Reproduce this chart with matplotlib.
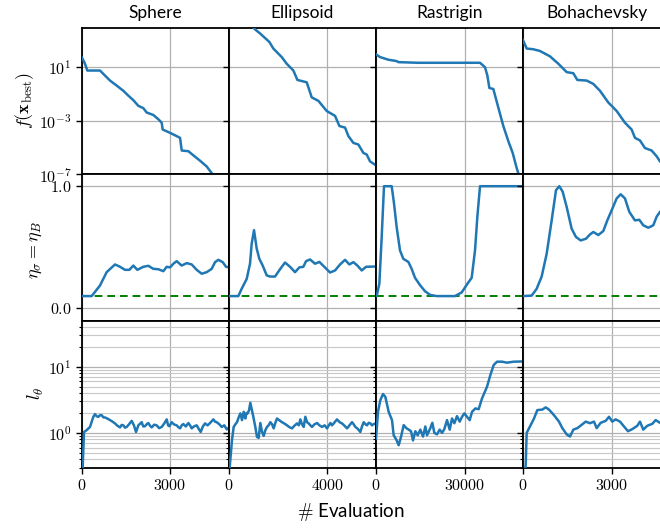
import numpy as np
import matplotlib
matplotlib.use("Agg")
import matplotlib.pyplot as plt
from matplotlib.ticker import FixedLocator, FuncFormatter, LogLocator, NullFormatter, NullLocator

plt.rcParams['mathtext.fontset'] = 'cm'
plt.rcParams['font.family'] = ['Lato', 'DejaVu Sans']

titles = ["Sphere", "Ellipsoid", "Rastrigin", "Bohachevsky"]
xmax = [5011, 5980, 49540, 4955]
xticks = [[0, 3000], [0, 4000], [0, 30000], [0, 3000]]

# ---- row 1: f(x_best) ----
sph_f_e = [0, 102, 181, 614, 750, 955, 1183, 1410, 1580, 1750, 1921, 2091, 2205, 2432, 2603, 2717, 2750,
           3001, 3228, 3342, 3399, 3626, 3796, 4024, 4251, 4422, 4479, 4649, 4763, 5011]
sph_f = [5.4e1, 1.9e1, 5.9, 5.9, 2.95, 1.05, 4.4e-1, 1.8e-1, 7.8e-2, 3.6e-2, 1.35e-2, 9.1e-3, 4.3e-3,
         2.8e-3, 1.35e-3, 7.4e-4, 2.3e-4, 1.3e-4, 7.4e-5, 5.5e-5, 6.2e-6, 5.5e-6, 2.7e-6, 1.07e-6,
         4.0e-7, 1.26e-7, 9.5e-8, 9.5e-8, 1.0e-8, 3.0e-9]

ell_f_e = [0, 1058, 1262, 1641, 1804, 2144, 2348, 2619, 2782, 3162, 3365, 3636, 3975, 4314, 4491, 4721,
           4857, 5060, 5263, 5466, 5602, 5738, 5942]
ell_f = [1.2e6, 7.1e3, 3.5e3, 8.1e2, 2.6e2, 6.0e1, 1.9e1, 5.9, 1.17, 7.8e-1, 5.8e-2, 3.2e-2, 5.6e-3,
         2.4e-3, 4.2e-4, 3.2e-4, 7.4e-5, 2.3e-5, 1.74e-5, 4.1e-6, 3.1e-6, 9.5e-7, 5.4e-7]

ras_f_e = [0, 1348, 4157, 6965, 7528, 14267, 35055, 36730, 37527, 38201, 39540, 41225, 42910, 44595,
           46067, 47414, 48313, 49540]
ras_f = [9.5e1, 6.0e1, 3.8e1, 3.0e1, 2.5e1, 2.24e1, 2.24e1, 1.05e1, 2.5, 2.95e-1, 2.45e-1, 1.0e-2,
         4.2e-4, 3.1e-5, 4.1e-6, 3.0e-7, 7.1e-8, 1.0e-8]

boh_f_e = [0, 124, 348, 573, 910, 1191, 1472, 1696, 1831, 2146, 2370, 2595, 2876, 3157, 3437, 3662, 3774,
           3943, 4111, 4336, 4505, 4617, 4955]
boh_f = [1.1e3, 2.6e2, 2.3e2, 1.7e2, 6.8e1, 1.9e1, 4.5, 3.7, 1.17, 1.05, 5.9e-1, 1.8e-1, 2.4e-2,
         5.6e-3, 7.4e-4, 2.3e-4, 5.5e-5, 3.5e-5, 9.5e-6, 6.2e-6, 2.3e-6, 9.5e-7, 3.0e-7]

# ---- row 2: eta ----
sph_eta_e = [0, 330, 614, 841, 1125, 1296, 1466, 1614, 1750, 1887, 2091, 2262, 2432, 2603, 2773, 2887,
             3001, 3114, 3228, 3398, 3569, 3740, 3910, 4080, 4251, 4421, 4535, 4649, 4797, 4910, 5011]
sph_eta = [0.1, 0.1, 0.187, 0.296, 0.359, 0.34, 0.315, 0.315, 0.35, 0.315, 0.34, 0.348, 0.323, 0.32,
           0.304, 0.34, 0.335, 0.365, 0.386, 0.35, 0.37, 0.359, 0.315, 0.283, 0.296, 0.323, 0.378,
           0.397, 0.378, 0.34, 0.335]

ell_eta_e = [0, 380, 515, 719, 855, 923, 1018, 1126, 1235, 1370, 1533, 1668, 1872, 2076, 2279, 2482,
             2686, 2862, 3025, 3134, 3297, 3500, 3676, 3866, 4111, 4314, 4518, 4721, 4898, 5060, 5223,
             5399, 5575, 5942]
ell_eta = [0.1, 0.1, 0.16, 0.24, 0.365, 0.53, 0.64, 0.49, 0.405, 0.35, 0.27, 0.26, 0.26, 0.32, 0.375,
           0.34, 0.296, 0.335, 0.34, 0.386, 0.4, 0.365, 0.38, 0.342, 0.293, 0.31, 0.359, 0.397, 0.359,
           0.378, 0.35, 0.31, 0.34, 0.342]

ras_eta_e = [0, 225, 1123, 1910, 2696, 5280, 6066, 6965, 8088, 9211, 10897, 12020, 13143, 14828, 16513,
             18198, 20445, 24377, 26606, 28877, 30786, 32247, 33370, 34156, 35055, 49540]
ras_eta = [0.1, 0.1, 0.2, 0.58, 1.0, 1.0, 0.86, 0.665, 0.474, 0.405, 0.38, 0.323, 0.25, 0.19, 0.14,
           0.11, 0.1, 0.1, 0.1, 0.13, 0.2, 0.25, 0.474, 0.75, 1.0, 1.0]

boh_eta_e = [0, 292, 461, 629, 798, 966, 1112, 1224, 1337, 1472, 1640, 1786, 1944, 2124, 2258, 2370,
             2538, 2707, 2842, 2989, 3157, 3292, 3437, 3583, 3774, 3920, 4054, 4223, 4392, 4504, 4617,
             4955]
boh_eta = [0.1, 0.104, 0.16, 0.26, 0.447, 0.72, 0.967, 1.0, 0.955, 0.83, 0.652, 0.584, 0.556, 0.57,
           0.605, 0.625, 0.6, 0.633, 0.72, 0.803, 0.9, 0.934, 0.9, 0.79, 0.72, 0.725, 0.68, 0.66, 0.68,
           0.75, 0.79, 0.82]

eta_min = 0.1

# ---- row 3: l_theta ----
sph_l_e = [0, 23, 68, 159, 273, 386, 443, 500, 557, 613, 670, 727, 784, 870, 955, 1040, 1125, 1210,
           1296, 1353, 1410, 1466, 1523, 1610, 1694, 1770, 1842, 1921, 1980, 2035, 2090, 2148, 2205,
           2262, 2320, 2376, 2460, 2546, 2630, 2717, 2800, 2887, 2935, 2978, 3058, 3140, 3228, 3285,
           3342, 3400, 3456, 3540, 3626, 3683, 3740, 3825, 3910, 3980, 4046, 4120, 4194, 4280, 4365,
           4420, 4478, 4535, 4592, 4680, 4762, 4850, 4933, 5011]
sph_l = [0.2, 0.3, 1.03, 1.1, 1.23, 1.75, 1.92, 1.78, 1.75, 1.85, 1.85, 1.72, 1.71, 1.64, 1.56, 1.48,
         1.39, 1.28, 1.21, 1.32, 1.3, 1.2, 1.23, 1.36, 1.52, 1.3, 1.03, 1.3, 1.38, 1.45, 1.25, 1.26,
         1.35, 1.41, 1.28, 1.21, 1.33, 1.3, 1.18, 1.23, 1.38, 1.6, 1.3, 1.26, 1.45, 1.34, 1.3, 1.22,
         1.17, 1.3, 1.36, 1.25, 1.41, 1.3, 1.17, 1.26, 1.3, 1.15, 1.03, 1.25, 1.39, 1.3, 1.41, 1.5,
         1.6, 1.48, 1.45, 1.35, 1.23, 1.3, 1.13, 1.21]

ell_l_e = [0, 27, 122, 190, 260, 325, 390, 461, 529, 597, 665, 710, 760, 815, 868, 976, 1071, 1139,
           1207, 1275, 1340, 1410, 1480, 1546, 1610, 1682, 1750, 1818, 1880, 1953, 2050, 2157, 2260,
           2360, 2460, 2564, 2660, 2767, 2840, 2903, 2970, 3039, 3106, 3175, 3242, 3310, 3378, 3480,
           3581, 3680, 3785, 3890, 3988, 4060, 4124, 4190, 4259, 4330, 4395, 4500, 4598, 4700, 4802,
           4900, 5005, 5070, 5141, 5240, 5344, 5410, 5480, 5550, 5615, 5680, 5751, 5820, 5887, 5980]
ell_l = [0.2, 0.3, 0.78, 1.23, 1.35, 1.45, 1.7, 1.97, 1.56, 2.08, 1.65, 2.0, 1.97, 2.2, 2.85, 1.85,
         1.23, 0.87, 0.84, 1.41, 1.05, 0.9, 1.1, 1.23, 1.3, 1.45, 1.35, 1.17, 1.4, 1.65, 1.55, 1.45,
         1.38, 1.3, 1.22, 1.17, 1.28, 1.39, 1.3, 1.6, 1.35, 1.23, 1.75, 1.45, 1.39, 1.3, 1.23, 1.35,
         1.41, 1.3, 1.23, 1.3, 1.17, 1.3, 1.41, 1.3, 1.39, 1.5, 1.6, 1.45, 1.39, 1.28, 1.17, 1.3, 1.45,
         1.35, 1.23, 1.15, 1.03, 1.25, 1.45, 1.35, 1.3, 1.42, 1.39, 1.3, 1.36, 1.39]

ras_l_e = [0, 674, 1460, 2360, 3146, 4270, 5393, 5955, 6854, 7640, 8427, 9326, 10225, 11011, 11798,
           12472, 13258, 14045, 14944, 15843, 16629, 17191, 18314, 18988, 19662, 20561, 21460, 22247,
           23033, 23932, 24831, 25618, 26404, 27303, 28202, 28989, 29775, 30674, 31573, 32360, 33483,
           34607, 35730, 37415, 38539, 39663, 40786, 42471, 44157, 46404, 49540]
ras_l = [0.82, 2.08, 3.13, 3.86, 3.5, 2.08, 1.56, 0.92, 0.79, 0.65, 0.87, 1.31, 1.18, 1.12, 1.06, 0.77,
         1.06, 0.92, 1.12, 0.88, 1.25, 0.92, 1.18, 1.42, 1.0, 0.95, 1.12, 1.0, 1.14, 1.56, 1.12, 1.65,
         1.4, 1.79, 1.48, 1.75, 1.97, 1.75, 1.56, 2.08, 2.34, 2.28, 3.32, 4.98, 7.48, 10.6, 11.9, 11.9,
         11.5, 11.9, 12.0]

boh_l_e = [0, 90, 124, 258, 371, 483, 652, 764, 876, 1045, 1213, 1326, 1472, 1584, 1697, 1832, 1966,
           2112, 2258, 2393, 2483, 2618, 2787, 2899, 3010, 3124, 3269, 3404, 3539, 3683, 3852, 3943,
           4054, 4189, 4358, 4472, 4617, 4955]
boh_l = [0.2, 0.32, 1.0, 1.31, 1.65, 2.21, 2.25, 2.43, 2.25, 1.85, 1.48, 1.18, 0.95, 0.88, 1.12, 1.18,
         1.31, 1.48, 1.4, 1.48, 1.18, 1.42, 1.52, 1.75, 1.48, 1.6, 1.48, 1.25, 1.06, 1.14, 1.28, 1.48,
         1.12, 1.28, 1.37, 1.56, 1.42, 1.3]

f_series = [(sph_f_e, sph_f), (ell_f_e, ell_f), (ras_f_e, ras_f), (boh_f_e, boh_f)]
eta_series = [(sph_eta_e, sph_eta), (ell_eta_e, ell_eta), (ras_eta_e, ras_eta), (boh_eta_e, boh_eta)]
l_series = [(sph_l_e, sph_l), (ell_l_e, ell_l), (ras_l_e, ras_l), (boh_l_e, boh_l)]

W, H = 660, 529
fig = plt.figure(figsize=(W / 100, H / 100), dpi=100)

col_left = [82, 229, 376, 523]
col_w = 147
row_top = [28, 174, 321]
row_h = 146.5

blue = '#1f77b4'
tick_fs = 11.5

def mathfmt(v, pos):
    return r'$%g$' % v

def logfmt(v, pos):
    if v <= 0:
        return ''
    e = int(round(np.log10(v)))
    return r'$10^{%d}$' % e

for r in range(3):
    for c in range(4):
        ax = fig.add_axes([col_left[c] / W, 1 - (row_top[r] + row_h) / H, col_w / W, row_h / H])
        for s in ax.spines.values():
            s.set_linewidth(1.3)
            s.set_color('black')
        ax.set_xlim(0, xmax[c])
        ax.xaxis.set_major_locator(FixedLocator(xticks[c]))
        ax.xaxis.set_minor_locator(NullLocator())
        ax.grid(True, which='major', color='#b0b0b0', linewidth=0.9)
        ax.set_axisbelow(True)
        ax.tick_params(axis='both', which='major', direction='out', length=4, width=1.0,
                       labelsize=tick_fs, color='black')
        ax.tick_params(axis='both', which='minor', direction='out', length=2.5, width=0.8)
        if r < 2:
            ax.tick_params(axis='x', labelbottom=False)
        else:
            ax.xaxis.set_major_formatter(FuncFormatter(mathfmt))
        if c > 0:
            ax.tick_params(axis='y', which='both', labelleft=False)

        if r == 0:
            e, v = f_series[c]
            ax.plot(e, v, color=blue, lw=1.8, zorder=3)
            ax.set_yscale('log')
            ax.set_ylim(1e-7, 10 ** 3.95)
            ax.yaxis.set_major_locator(FixedLocator([1e-7, 1e-3, 1e1]))
            ax.yaxis.set_minor_locator(NullLocator())
            ax.yaxis.set_major_formatter(FuncFormatter(logfmt))
            ax.set_title(titles[c], fontsize=12.5, pad=7)
        elif r == 1:
            e, v = eta_series[c]
            ax.plot(e, v, color=blue, lw=1.8, zorder=3)
            ax.axhline(eta_min, color='green', ls='--', lw=1.4, dashes=(4, 2.5), zorder=2)
            ax.set_ylim(-0.1, 1.1)
            ax.yaxis.set_major_locator(FixedLocator([0.0, 1.0]))
            ax.yaxis.set_major_formatter(FuncFormatter(lambda v, p: r'$%.1f$' % v))
        else:
            e, v = l_series[c]
            ax.plot(e, v, color=blue, lw=1.8, zorder=3)
            ax.set_yscale('log')
            ax.set_ylim(0.3, 49)
            ax.yaxis.set_major_locator(FixedLocator([1.0, 10.0]))
            ax.yaxis.set_minor_locator(LogLocator(base=10, subs=np.arange(2, 10)))
            ax.yaxis.set_major_formatter(FuncFormatter(logfmt))
            ax.yaxis.set_minor_formatter(NullFormatter())
            ax.grid(True, which='minor', axis='y', color='#c8c8c8', linewidth=0.8)

fig.text(25 / W, 1 - 100 / H, r'$f(\mathbf{x}_{\mathrm{best}})$', rotation=90, ha='center', va='center',
         fontsize=13)
fig.text(36 / W, 1 - 250 / H, r'$\eta_\sigma = \eta_B$', rotation=90, ha='center', va='center',
         fontsize=13)
fig.text(36 / W, 1 - 393 / H, r'$l_\theta$', rotation=90, ha='center', va='center', fontsize=13)
fig.text(351 / W, 1 - 512 / H, r'$\#$ Evaluation', ha='center', va='center', fontsize=13.5)

fig.savefig('out.png', dpi=100)
